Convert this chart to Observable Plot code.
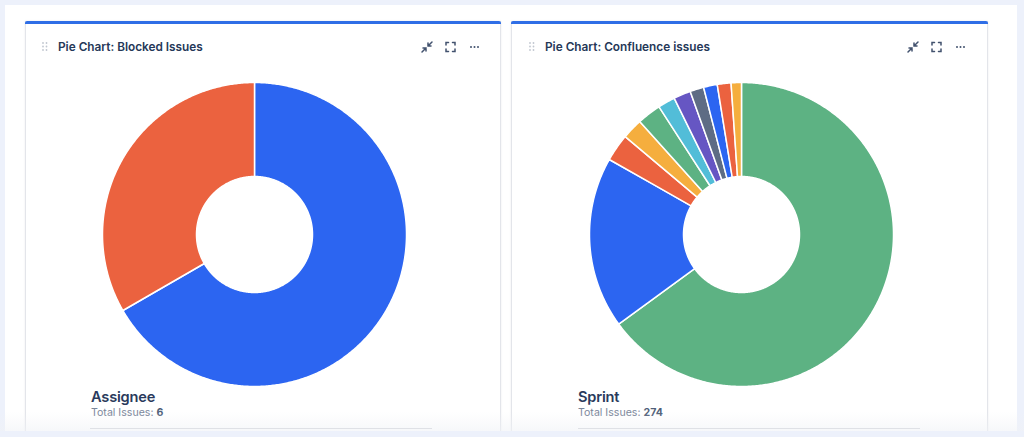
<!DOCTYPE html>
<html>
<head>
<meta charset="utf-8">
<script src="https://cdn.jsdelivr.net/npm/d3@7"></script>
<script src="https://cdn.jsdelivr.net/npm/@observablehq/plot@0.6"></script>
<style>
  html, body { margin: 0; padding: 0; }
  body { width: 1024px; height: 437px; background: #edf1fb; position: relative; overflow: hidden;
         font-family: Inter, "Noto Sans", Roboto, sans-serif; }
  .main { position: absolute; left: 5px; top: 5px; width: 1012px; height: 440px; background: #ffffff; }
  .panel { position: absolute; top: 21px; height: 430px; background: #fff;
           border: 1px solid #e3e5ea; border-top: none; box-shadow: 0 0 2px rgba(9,30,66,0.08); }
  .panel .bar { position: absolute; left: -1px; right: -1px; top: 0; height: 3px; background: #2f6ee6; border-radius: 2px 2px 0 0; }
  .title { position: absolute; font-size: 11.8px; font-weight: 600; color: #253858; white-space: nowrap; line-height: 14px; }
  .handle, .icons { position: absolute; line-height: 0; }
  .handle svg, .icons svg { display: block; }
  .legendTitle { position: absolute; font-size: 14.6px; font-weight: 600; color: #2a3a5c; white-space: nowrap; letter-spacing: -0.2px; line-height: 18px; }
  .legendSub { position: absolute; font-size: 10.6px; color: #7a869a; white-space: nowrap; line-height: 13px; }
  .legendSub b { color: #505f79; font-weight: 700; }
  .sep { position: absolute; height: 1px; background: #dfe1e6; }
  .chart { position: absolute; line-height: 0; }
  .fade { position: absolute; left: 0; width: 1024px; top: 412px; height: 20px;
          background: linear-gradient(rgba(240,242,246,0), rgba(240,242,246,0.6)); }
  .bottom { position: absolute; left: 0; top: 431px; width: 1024px; height: 6px; background: #edf1fb; }
</style>
</head>
<body>
<div class="main"></div>
<div class="panel" style="left:25px; width:474px;"><div class="bar"></div></div>
<div class="panel" style="left:511px; width:475px;"><div class="bar"></div></div>

<div id="root"></div>
<div class="fade"></div>
<div class="sep" style="left:90px; width:342px; top:428px;"></div>
<div class="sep" style="left:578px; width:342px; top:428px;"></div>
<div class="bottom"></div>

<script>
// ---------- data ----------
const blockedCategories = ["Assignee A", "Unassigned"];
const blockedValues = [4, 2];
const blockedColors = ["#2c65f1", "#eb623f"];

const sprintCategories = ["Sprint 1", "Sprint 2", "Sprint 3", "Sprint 4", "Sprint 5", "Sprint 6",
                          "Sprint 7", "Sprint 8", "Sprint 9", "Sprint 10", "Sprint 11"];
const sprintValues = [178, 50, 8, 6, 7, 5, 5, 4, 4, 4, 3];
const sprintColors = ["#5db283", "#2c65f1", "#eb623f", "#f5ae3e", "#5db283", "#52bdd8",
                      "#6656c3", "#5e6c84", "#2c65f1", "#eb623f", "#f5ae3e"];

const panelTitles = ["Pie Chart: Blocked Issues", "Pie Chart: Confluence issues"];
const legendTitles = ["Assignee", "Sprint"];
const totals = [d3.sum(blockedValues), d3.sum(sprintValues)];

// ---------- donut built as geo polygons around the pole ----------
const R = 60;                // outer angular radius (deg)
const innerFrac = 58 / 152;  // hole / outer radius

function donutFeatures(categories, values, colors) {
  const total = d3.sum(values);
  const r = R * innerFrac;
  let acc = 0;
  return values.map((v, i) => {
    const t0 = acc / total * 360, t1 = (acc + v) / total * 360;
    acc += v;
    const n = Math.max(2, Math.ceil((t1 - t0) / 0.5));
    const ring = [];
    for (let k = 0; k <= n; k++) { const t = t0 + (t1 - t0) * k / n; ring.push([180 - t, 90 - R]); }
    for (let k = n; k >= 0; k--) { const t = t0 + (t1 - t0) * k / n; ring.push([180 - t, 90 - r]); }
    ring.push(ring[0].slice());
    const f = {type: "Feature", properties: {name: categories[i], value: v, color: colors[i]},
               geometry: {type: "Polygon", coordinates: [ring]}};
    if (d3.geoArea(f) > 2 * Math.PI) ring.reverse();
    return f;
  });
}

function donut(categories, values, colors) {
  const outline = d3.geoCircle().center([0, 90]).radius(R).precision(0.5)();
  return Plot.plot({
    width: 304, height: 304, margin: 0,
    projection: {type: "azimuthal-equidistant", rotate: [0, -90], domain: outline, inset: 0},
    color: {type: "identity"},
    marks: [
      Plot.geo(donutFeatures(categories, values, colors), {
        fill: d => d.properties.color, stroke: "#ffffff", strokeWidth: 1.5,
        title: d => `${d.properties.name}: ${d.properties.value}`
      })
    ]
  });
}

// ---------- page pieces ----------
const root = document.getElementById("root");
function add(html) { const d = document.createElement("div"); d.innerHTML = html; while (d.firstChild) root.appendChild(d.firstChild); }

const handleSvg = `<svg width="6" height="9" viewBox="0 0 6 9"><g fill="#c1c7d0">
  <circle cx="1" cy="1" r="0.9"/><circle cx="4.5" cy="1" r="0.9"/>
  <circle cx="1" cy="4.5" r="0.9"/><circle cx="4.5" cy="4.5" r="0.9"/>
  <circle cx="1" cy="8" r="0.9"/><circle cx="4.5" cy="8" r="0.9"/></g></svg>`;
const iconsSvg = `<svg width="64" height="14" viewBox="0 0 64 14">
  <g stroke="#42526e" stroke-width="1.5" fill="none" stroke-linecap="round">
    <path d="M2 12 L6 8 M3 8 H6 V11"/><path d="M12 2 L8 6 M8 3 V6 H11"/>
    <path d="M26 5 V2.5 H28.5 M32.5 2.5 H35 V5 M35 9 V11.5 H32.5 M28.5 11.5 H26 V9"/>
  </g>
  <g fill="#42526e"><circle cx="51" cy="7" r="1"/><circle cx="54.5" cy="7" r="1"/><circle cx="58" cy="7" r="1"/></g>
</svg>`;

const panels = [
  {titleX: 58, handleX: 42, iconsX: 420, chartX: 102, legendX: 91},
  {titleX: 545, handleX: 529, iconsX: 906, chartX: 589, legendX: 578}
];
const datasets = [
  [blockedCategories, blockedValues, blockedColors],
  [sprintCategories, sprintValues, sprintColors]
];

panels.forEach((p, i) => {
  add(`<div class="handle" style="left:${p.handleX}px; top:42px;">${handleSvg}</div>`);
  add(`<div class="title" style="left:${p.titleX}px; top:40px;">${panelTitles[i]}</div>`);
  add(`<div class="icons" style="left:${p.iconsX}px; top:40px;">${iconsSvg}</div>`);
  const c = document.createElement("div");
  c.className = "chart";
  c.style.left = p.chartX + "px";
  c.style.top = "82px";
  c.appendChild(donut(...datasets[i]));
  root.appendChild(c);
  add(`<div class="legendTitle" style="left:${p.legendX}px; top:388px;">${legendTitles[i]}</div>`);
  add(`<div class="legendSub" style="left:${p.legendX}px; top:406px;">Total Issues: <b>${totals[i]}</b></div>`);
});
</script>
</body>
</html>
